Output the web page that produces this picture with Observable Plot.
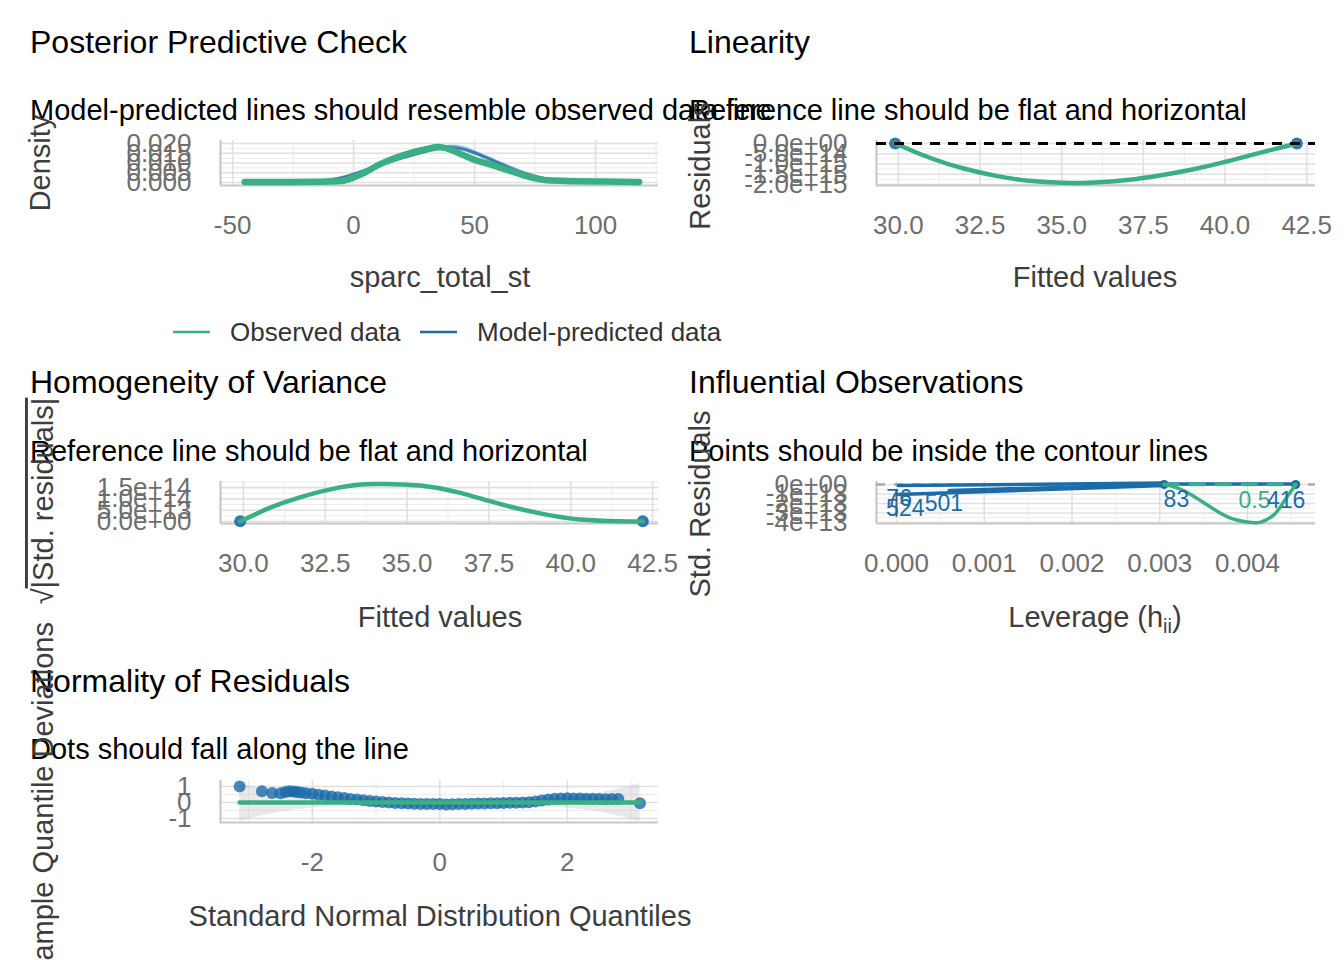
<!DOCTYPE html>
<html><head><meta charset="utf-8">
<script src="https://cdn.jsdelivr.net/npm/d3@7"></script>
<script src="https://cdn.jsdelivr.net/npm/@observablehq/plot@0.6"></script>
<style>
body{margin:0;background:#fff;}
#root{position:relative;width:1344px;height:960px;overflow:hidden;background:#fff;}
</style></head><body><div id="root"></div>
<script>
const FONT = '"Liberation Sans", Arial, Helvetica, sans-serif';
const GREEN = "#3aaf85", BLUE = "#1b6ca8";

// ---------- Posterior Predictive Check ----------
const ppcX = [-45,-35,-25,-15,-10,-5,0,5,10,15,20,25,30,35,40,45,50,55,60,65,70,75,80,90,100,110,118];
const ppcObserved = [0.0003,0.0003,0.0003,0.0004,0.0005,0.0008,0.0026,0.0054,0.0088,0.0115,0.0138,0.0157,0.0171,0.0182,0.0169,0.0142,0.0116,0.0098,0.0078,0.0058,0.0038,0.0021,0.0011,0.0007,0.0005,0.0004,0.0003];
const ppcSim1 = [0.0002,0.0003,0.0004,0.0008,0.0014,0.0026,0.0043,0.0064,0.0086,0.0107,0.0126,0.0143,0.0160,0.0174,0.0180,0.0172,0.0150,0.0124,0.0097,0.0071,0.0048,0.0030,0.0017,0.0006,0.0003,0.0002,0.0001];
const ppcSim2 = [0.0002,0.0002,0.0003,0.0006,0.0011,0.0021,0.0038,0.0060,0.0084,0.0106,0.0127,0.0147,0.0165,0.0180,0.0186,0.0176,0.0153,0.0126,0.0099,0.0074,0.0051,0.0032,0.0019,0.0007,0.0003,0.0002,0.0001];
const ppcSim3 = [0.0003,0.0003,0.0005,0.0009,0.0015,0.0027,0.0045,0.0066,0.0088,0.0108,0.0125,0.0141,0.0157,0.0171,0.0178,0.0173,0.0157,0.0133,0.0106,0.0079,0.0055,0.0035,0.0020,0.0008,0.0004,0.0002,0.0001];
const ppcSim4 = [0.0002,0.0003,0.0004,0.0007,0.0012,0.0023,0.0040,0.0061,0.0083,0.0104,0.0123,0.0142,0.0161,0.0178,0.0189,0.0182,0.0158,0.0128,0.0099,0.0072,0.0049,0.0031,0.0018,0.0007,0.0003,0.0002,0.0001];
const ppcSim5 = [0.0002,0.0003,0.0004,0.0007,0.0013,0.0024,0.0042,0.0063,0.0086,0.0108,0.0128,0.0146,0.0163,0.0176,0.0181,0.0170,0.0148,0.0122,0.0096,0.0070,0.0047,0.0029,0.0016,0.0006,0.0003,0.0002,0.0001];
const ppcSim6 = [0.0003,0.0004,0.0005,0.0008,0.0013,0.0025,0.0044,0.0067,0.0090,0.0110,0.0128,0.0144,0.0159,0.0172,0.0177,0.0169,0.0152,0.0130,0.0104,0.0077,0.0052,0.0033,0.0019,0.0008,0.0004,0.0002,0.0001];
const ppcXTicks = [-50,0,50,100], ppcXLabels = ["-50","0","50","100"], ppcXMinor = [-25,25,75,125];
const ppcYTicks = [0,0.005,0.01,0.015,0.02], ppcYLabels = ["0.000","0.005","0.010","0.015","0.020"], ppcYMinor = [0.0025,0.0075,0.0125,0.0175];

// ---------- Linearity ----------
const linPointX = [29.9, 42.2], linPointY = [0, 0];
const linSmoothX = [29.9,31,32,33,34,35,36,37,38,39,40,41,42.2];
const linSmoothY = [0,-0.72e15,-1.22e15,-1.58e15,-1.82e15,-1.92e15,-1.9e15,-1.78e15,-1.56e15,-1.27e15,-0.9e15,-0.48e15,0];
const fitTicks = [30,32.5,35,37.5,40,42.5], fitLabels = ["30.0","32.5","35.0","37.5","40.0","42.5"], fitMinor = [31.25,33.75,36.25,38.75,41.25];
const linYTicks = [0,-0.5e15,-1e15,-1.5e15,-2e15], linYLabels = ["0.0e+00","-5.0e+14","-1.0e+15","-1.5e+15","-2.0e+15"], linYMinor = [-0.25e15,-0.75e15,-1.25e15,-1.75e15];

// ---------- Homogeneity of Variance ----------
const homPointX = [29.9, 42.2], homPointY = [0.01e14, 0.01e14];
const homSmoothX = [29.9,30.8,31.7,32.9,34,35.4,36.6,37.8,39.1,40.3,41.5,42.2];
const homSmoothY = [0,0.6e14,1.06e14,1.5e14,1.66e14,1.59e14,1.28e14,0.79e14,0.35e14,0.09e14,0.01e14,0];
const homYTicks = [0,0.5e14,1e14,1.5e14], homYLabels = ["0.0e+00","5.0e+13","1.0e+14","1.5e+14"], homYMinor = [0.25e14,0.75e14,1.25e14,1.75e14];

// ---------- Influential Observations ----------
const infPointX = [0.00305, 0.00455], infPointY = [0, 0];
const infLineId  = ["a","a","b","b","c","c","d","d"];
const infLineLev = [0.00002,0.00305, 0.00002,0.00305, 0.0006,0.00305, 0.00305,0.00455];
const infLineRes = [-0.1e13,0.15e13, -1.05e13,-0.1e13, -0.63e13,0.0, 0.05e13,0.05e13];
const infContourLev = [0.00305, 0.00455], infContourRes = [0, 0];
const infCurveLev = [0.00305,0.0032,0.0034,0.0036,0.0038,0.0040,0.00415,0.0043,0.0044,0.00455];
const infCurveRes = [0,-0.35e13,-1.3e13,-2.5e13,-3.5e13,-3.95e13,-3.95e13,-3.2e13,-2.0e13,0];
const infStackLev = [0, 0], infStackRes = [-0.6e13, -3.3e13];
const infLabelText = ["76","524","501","83","0.5","416"];
const infLabelLev = [0.00003,0.0001,0.00054,0.00319,0.00408,0.00444];
const infLabelRes = [-1.45e13,-2.5e13,-2.0e13,-1.55e13,-1.65e13,-1.65e13];
const infLabelColor = [BLUE,BLUE,BLUE,BLUE,GREEN,BLUE];
const levTicks = [0,0.001,0.002,0.003,0.004], levLabels = ["0.000","0.001","0.002","0.003","0.004"], levMinor = [0.0005,0.0015,0.0025,0.0035,0.0045];
const infYTicks = [0,-1e13,-2e13,-3e13,-4e13], infYLabels = ["0e+00","-1e+13","-2e+13","-3e+13","-4e+13"], infYMinor = [-0.5e13,-1.5e13,-2.5e13,-3.5e13];

// ---------- Normality of Residuals ----------
const qqX = [-3.14,-2.79,-2.63,-2.5,-2.42,-2.36,-2.3,-2.24,-2.18,-2.1,-2.0,-1.9,-1.8,-1.7,-1.6,-1.5,-1.4,-1.3,-1.2,-1.1,-1.0,-0.9,-0.8,-0.7,-0.6,-0.5,-0.4,-0.3,-0.2,-0.1,0,0.1,0.2,0.3,0.4,0.5,0.6,0.7,0.8,0.9,1.0,1.1,1.2,1.3,1.4,1.5,1.6,1.7,1.8,1.9,2.0,2.1,2.2,2.3,2.4,2.5,2.6,2.7,2.8,3.14];
const qqY = [1.0,0.71,0.6,0.58,0.66,0.7,0.68,0.66,0.62,0.58,0.54,0.48,0.44,0.38,0.33,0.28,0.22,0.18,0.14,0.1,0.06,0.03,0.0,-0.03,-0.05,-0.07,-0.08,-0.09,-0.1,-0.1,-0.1,-0.12,-0.11,-0.1,-0.09,-0.08,-0.07,-0.06,-0.05,-0.04,-0.03,-0.02,-0.01,0.0,0.02,0.06,0.12,0.18,0.23,0.25,0.26,0.25,0.25,0.24,0.23,0.22,0.21,0.22,0.22,-0.04];
const bandX = [-3.14,-2.8,-2.5,-2.2,-2.0,-1.5,-1.0,-0.5,0,0.5,1.0,1.5,2.0,2.2,2.5,2.8,3.14];
const bandLow = [-1.18,-0.85,-0.6,-0.42,-0.34,-0.22,-0.16,-0.13,-0.12,-0.13,-0.16,-0.22,-0.34,-0.42,-0.6,-0.85,-1.18];
const bandHigh = [1.18,0.85,0.6,0.42,0.34,0.22,0.16,0.13,0.12,0.13,0.16,0.22,0.34,0.42,0.6,0.85,1.18];
const qqLineX = [-3.14, 3.14], qqLineY = [0, 0];
const qqXTicks = [-2,0,2], qqXLabels = ["-2","0","2"], qqXMinor = [-3,-1,1,3];
const qqYTicks = [-1,0,1], qqYLabels = ["-1","0","1"], qqYMinor = [-0.5,0.5];

// ---------- helpers ----------
const root = document.getElementById("root");
const zip = (xs, ys, extra = {}) => xs.map((x, i) => ({x, y: ys[i], ...Object.fromEntries(Object.entries(extra).map(([k, v]) => [k, v[i]]))}));
const fmt = (ticks, labels) => { const m = new Map(ticks.map((t, i) => [t, labels[i]])); return d => m.get(d); };

function panel({fx, fy, fw, fh, xd, yd, xMaj, xLab, xMin, yMaj, yLab, yMin, marks}) {
  const ml = 230, mr = 40, mt = 15, mb = 70;
  const chart = Plot.plot({
    width: fw + ml + mr, height: fh + mt + mb,
    marginLeft: ml, marginRight: mr, marginTop: mt, marginBottom: mb,
    x: {domain: xd}, y: {domain: yd},
    style: {fontFamily: FONT, fontSize: "26px", color: "#6e6e6e", background: "transparent", overflow: "visible"},
    marks: [
      Plot.gridY(yMin, {stroke: "#ededed", strokeOpacity: 1, strokeWidth: 1}),
      Plot.gridX(xMin, {stroke: "#ededed", strokeOpacity: 1, strokeWidth: 1}),
      Plot.gridY(yMaj, {stroke: "#e0e0e0", strokeOpacity: 1, strokeWidth: 1.6}),
      Plot.gridX(xMaj, {stroke: "#e0e0e0", strokeOpacity: 1, strokeWidth: 1.6}),
      Plot.ruleX([xd[0]], {stroke: "#c8c8c8", strokeWidth: 2.2}),
      Plot.ruleY([yd[0]], {stroke: "#c8c8c8", strokeWidth: 2.2}),
      Plot.axisX(xMaj, {tickSize: 0, tickPadding: 30, tickFormat: fmt(xMaj, xLab), label: null, fontSize: 26}),
      Plot.axisY(yMaj, {tickSize: 0, tickPadding: 29, tickFormat: fmt(yMaj, yLab), label: null, fontSize: 26}),
      ...marks
    ]
  });
  chart.style.position = "absolute";
  chart.style.left = (fx - ml) + "px";
  chart.style.top = (fy - mt) + "px";
  root.appendChild(chart);
}

// PPC
const sims = [ppcSim1, ppcSim2, ppcSim3, ppcSim4, ppcSim5, ppcSim6];
const simData = sims.flatMap((s, k) => ppcX.map((x, i) => ({x, y: s[i], k})));
panel({
  fx: 220, fy: 140, fw: 438, fh: 45, xd: [-55, 126], yd: [-0.00154, 0.02154],
  xMaj: ppcXTicks, xLab: ppcXLabels, xMin: ppcXMinor, yMaj: ppcYTicks, yLab: ppcYLabels, yMin: ppcYMinor,
  marks: [
    Plot.line(simData, {x: "x", y: "y", z: "k", stroke: BLUE, strokeWidth: 2.5, strokeOpacity: 0.35, curve: "monotone-x"}),
    Plot.line(zip(ppcX, ppcObserved), {x: "x", y: "y", stroke: GREEN, strokeWidth: 6.5, curve: "monotone-x"})
  ]
});

// Linearity
panel({
  fx: 876, fy: 140, fw: 439, fh: 45, xd: [29.33, 42.77], yd: [-2.049e15, 0.146e15],
  xMaj: fitTicks, xLab: fitLabels, xMin: fitMinor, yMaj: linYTicks, yLab: linYLabels, yMin: linYMinor,
  marks: [
    Plot.dot(zip(linPointX, linPointY), {x: "x", y: "y", r: 6, fill: BLUE, fillOpacity: 0.9}),
    Plot.line(zip(linSmoothX, linSmoothY), {x: "x", y: "y", stroke: GREEN, strokeWidth: 4.5, curve: "natural"}),
    Plot.ruleY([0], {stroke: "#000", strokeWidth: 3, strokeDasharray: "10,8"})
  ]
});

// Homogeneity
panel({
  fx: 220, fy: 481, fw: 438, fh: 42, xd: [29.3, 42.68], yd: [-0.088e14, 1.77e14],
  xMaj: fitTicks, xLab: fitLabels, xMin: fitMinor, yMaj: homYTicks, yLab: homYLabels, yMin: homYMinor,
  marks: [
    Plot.dot(zip(homPointX, homPointY), {x: "x", y: "y", r: 6, fill: BLUE, fillOpacity: 0.9}),
    Plot.line(zip(homSmoothX, homSmoothY), {x: "x", y: "y", stroke: GREEN, strokeWidth: 4.5, curve: "natural"})
  ]
});

// Influential
panel({
  fx: 876, fy: 481, fw: 439, fh: 42, xd: [-0.000228, 0.004775], yd: [-4.1e13, 0.32e13],
  xMaj: levTicks, xLab: levLabels, xMin: levMinor, yMaj: infYTicks, yLab: infYLabels, yMin: infYMinor,
  marks: [
    Plot.ruleY([0], {stroke: "#aaaaaa", strokeWidth: 2.5, strokeDasharray: "9,9"}),
    Plot.line(zip(infStackLev, infStackRes), {x: "x", y: "y", stroke: "#50606e", strokeWidth: 2}),
    Plot.line(zip(infLineLev, infLineRes, {id: infLineId}), {x: "x", y: "y", z: "id", stroke: BLUE, strokeWidth: 3.5}),
    Plot.dot(zip(infPointX, infPointY), {x: "x", y: "y", r: 4.5, fill: BLUE}),
    Plot.line(zip(infContourLev, infContourRes), {x: "x", y: "y", stroke: GREEN, strokeWidth: 3.5, strokeDasharray: "14,12"}),
    Plot.line(zip(infCurveLev, infCurveRes), {x: "x", y: "y", stroke: GREEN, strokeWidth: 3.5, curve: "natural"}),
    Plot.text(zip(infLabelLev, infLabelRes, {t: infLabelText, c: infLabelColor}), {x: "x", y: "y", text: "t", fill: "c", fontSize: 23, fontFamily: FONT})
  ]
});

// Normality
panel({
  fx: 220, fy: 780, fw: 438, fh: 42, xd: [-3.44, 3.43], yd: [-1.25, 1.375],
  xMaj: qqXTicks, xLab: qqXLabels, xMin: qqXMinor, yMaj: qqYTicks, yLab: qqYLabels, yMin: qqYMinor,
  marks: [
    Plot.areaY(zip(bandX, bandLow, {hi: bandHigh}), {x: "x", y1: "y", y2: "hi", fill: "#b5b5b5", fillOpacity: 0.3}),
    Plot.dot(zip(qqX, qqY), {x: "x", y: "y", r: 6, fill: BLUE, fillOpacity: 0.8}),
    Plot.line(zip(qqLineX, qqLineY), {x: "x", y: "y", stroke: GREEN, strokeWidth: 4.5})
  ]
});

// ---------- text overlay ----------
const svg = d3.select("#root").append("svg")
  .attr("width", 1344).attr("height", 960)
  .style("position", "absolute").style("left", 0).style("top", 0)
  .style("font-family", FONT);
function txt(x, y, s, size, color, anchor = "start", rot = false) {
  const t = svg.append("text").attr("x", x).attr("y", y).attr("font-size", size)
    .attr("fill", color).attr("text-anchor", anchor);
  if (s !== null) t.text(s);
  if (rot) t.attr("transform", `rotate(-90 ${x} ${y})`);
  return t;
}
const TC = "#000", AC = "#3d3d3d";
txt(30, 53, "Posterior Predictive Check", 32, TC);
txt(689, 53, "Linearity", 32, TC);
txt(30, 393, "Homogeneity of Variance", 32, TC);
txt(689, 393, "Influential Observations", 32, TC);
txt(30, 692, "Normality of Residuals", 32, TC);

txt(30, 120, "Model-predicted lines should resemble observed data line", 29, TC);
txt(689, 120, "Reference line should be flat and horizontal", 29, TC);
txt(30, 461, "Reference line should be flat and horizontal", 29, TC);
txt(689, 461, "Points should be inside the contour lines", 29, TC);
txt(30, 759, "Dots should fall along the line", 29, TC);

txt(440, 287, "sparc_total_st", 29, AC, "middle");
txt(1095, 287, "Fitted values", 29, AC, "middle");
txt(440, 627, "Fitted values", 29, AC, "middle");
const lev = txt(1095, 627, null, 29, AC, "middle");
lev.append("tspan").text("Leverage (h");
lev.append("tspan").attr("font-size", 20).attr("dy", 6).text("ii");
lev.append("tspan").attr("dy", -6).text(")");
txt(440, 926, "Standard Normal Distribution Quantiles", 29, AC, "middle");

txt(50, 163, "Density", 29, AC, "middle", true);
txt(710, 166, "Residuals", 29, AC, "middle", true);
const sq = txt(53, 501, null, 29, AC, "middle", true);
sq.append("tspan").text("√");
sq.append("tspan").style("text-decoration", "overline").text("|Std. residuals|");
txt(710, 504, "Std. Residuals", 29, AC, "middle", true);
txt(53, 801, "Sample Quantile Deviations", 29, AC, "middle", true);

// legend
const legendLabels = ["Observed data", "Model-predicted data"];
const legendColors = [GREEN, BLUE];
const legendX = [173, 420];
legendLabels.forEach((lab, i) => {
  svg.append("line").attr("x1", legendX[i]).attr("x2", legendX[i] + 37).attr("y1", 332).attr("y2", 332)
    .attr("stroke", legendColors[i]).attr("stroke-width", 2.5);
  txt(legendX[i] + 57, 341, lab, 26, "#333");
});
</script></body></html>
